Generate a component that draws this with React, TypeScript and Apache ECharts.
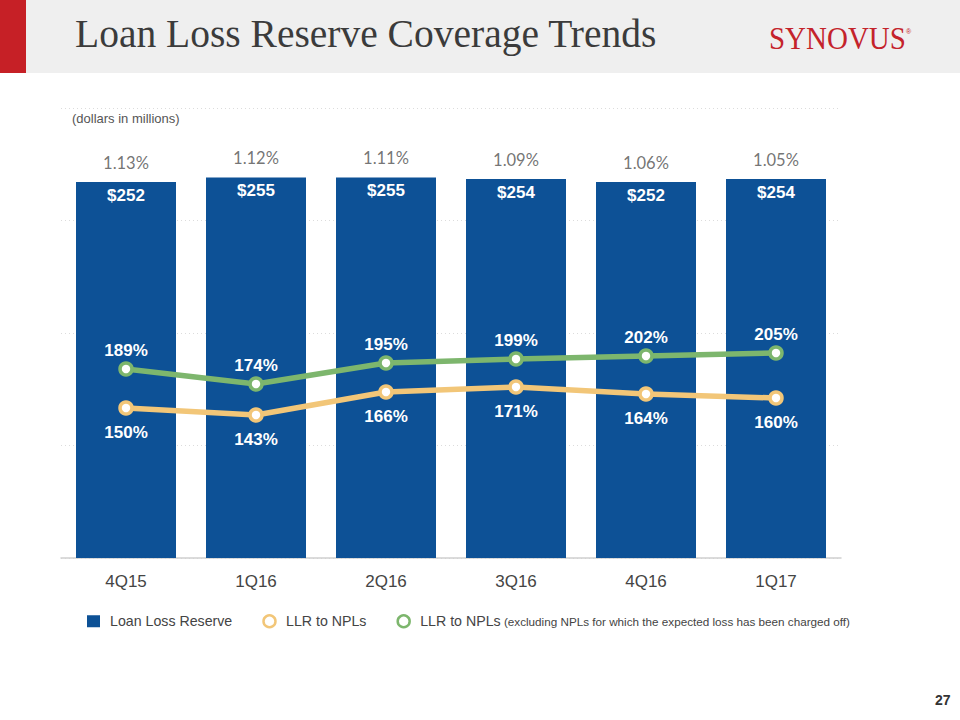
import React, { useEffect, useRef } from "react";
import * as echarts from "echarts";

const categories = ["4Q15", "1Q16", "2Q16", "3Q16", "4Q16", "1Q17"];
const loanLossReserve = [252, 255, 255, 254, 252, 254];
const reserveRatioLabels = ["1.13%", "1.12%", "1.11%", "1.09%", "1.06%", "1.05%"];
const llrToNpls = [150, 143, 166, 171, 164, 160];
const llrToNplsExcl = [189, 174, 195, 199, 202, 205];

const BLUE = "#0d5196";
const ORANGE = "#f2c678";
const GREEN = "#7db66d";
const EXCL_NAME = "LLR to NPLs excl";

export default function App() {
  const ref = useRef<HTMLDivElement>(null);

  useEffect(() => {
    if (!ref.current) return;
    const chart = echarts.init(ref.current, undefined, { renderer: "svg" });
    const option: any = {
      animation: false,
      backgroundColor: "#ffffff",
      grid: { left: 61, right: 119, top: 108, bottom: 162, containLabel: false },
      xAxis: {
        type: "category",
        data: categories,
        axisLine: { show: true, lineStyle: { color: "#cfcfcf", width: 1.5 } },
        axisTick: { show: false },
        axisLabel: {
          color: "#444",
          fontFamily: "Liberation Sans",
          fontSize: 17,
          margin: 15,
        },
      },
      yAxis: [
        {
          type: "value",
          min: 0,
          max: 301.5,
          show: false,
          splitLine: { show: false },
        },
        {
          type: "value",
          min: 0,
          max: 450,
          interval: 112.5,
          axisLine: { show: false },
          axisTick: { show: false },
          axisLabel: { show: false },
          splitLine: { show: true, lineStyle: { color: "#dcdcdc", type: [1, 3], width: 1 } },
        },
      ],
      legend: {
        left: 82,
        top: 609,
        itemWidth: 13,
        itemHeight: 12,
        itemGap: 30,
        selectedMode: false,
        data: [
          { name: "Loan Loss Reserve", icon: "rect", itemStyle: { color: BLUE } },
          {
            name: "LLR to NPLs",
            icon: "circle",
            itemStyle: { color: "#ffffff", borderColor: ORANGE, borderWidth: 2.5 },
          },
          {
            name: EXCL_NAME,
            icon: "circle",
            itemStyle: { color: "#ffffff", borderColor: GREEN, borderWidth: 2.5 },
          },
        ],
        formatter: (name: string) =>
          name === EXCL_NAME
            ? "{a|LLR to NPLs} {b|(excluding NPLs for which the expected loss has been charged off)}"
            : "{a|" + name + "}",
        textStyle: {
          padding: [0, 0, 0, 5],
          rich: {
            a: { fontSize: 14.2, color: "#444", fontFamily: "Liberation Sans" },
            b: { fontSize: 11.7, color: "#444", fontFamily: "Liberation Sans" },
          },
        },
      },
      series: [
        {
          name: "Loan Loss Reserve",
          type: "bar",
          yAxisIndex: 0,
          data: loanLossReserve,
          barWidth: 100,
          itemStyle: { color: BLUE },
          label: {
            show: true,
            position: "insideTop",
            distance: 5,
            color: "#ffffff",
            fontWeight: "bold",
            fontFamily: "Liberation Sans",
            fontSize: 17,
            formatter: (p: any) => "$" + p.value,
          },
          z: 2,
        },
        {
          name: "Reserve ratio",
          type: "scatter",
          yAxisIndex: 0,
          data: loanLossReserve,
          symbolSize: 1,
          itemStyle: { color: "rgba(0,0,0,0)" },
          silent: true,
          label: {
            show: true,
            position: "top",
            distance: 10,
            color: "#505050",
            fontFamily: "Lato",
            fontSize: 16.5,
            formatter: (p: any) => reserveRatioLabels[p.dataIndex],
          },
          z: 3,
        },
        {
          name: "LLR to NPLs",
          type: "line",
          yAxisIndex: 1,
          data: llrToNpls,
          symbol: "circle",
          symbolSize: 12,
          showAllSymbol: true,
          lineStyle: { color: ORANGE, width: 5.5 },
          itemStyle: { color: "#ffffff", borderColor: ORANGE, borderWidth: 3.5 },
          label: {
            show: true,
            position: "bottom",
            distance: 8,
            color: "#ffffff",
            fontWeight: "bold",
            fontFamily: "Liberation Sans",
            fontSize: 17,
            formatter: (p: any) => p.value + "%",
          },
          z: 4,
        },
        {
          name: EXCL_NAME,
          type: "line",
          yAxisIndex: 1,
          data: llrToNplsExcl,
          symbol: "circle",
          symbolSize: 12,
          showAllSymbol: true,
          lineStyle: { color: GREEN, width: 5.5 },
          itemStyle: { color: "#ffffff", borderColor: GREEN, borderWidth: 3.5 },
          label: {
            show: true,
            position: "top",
            distance: 2,
            color: "#ffffff",
            fontWeight: "bold",
            fontFamily: "Liberation Sans",
            fontSize: 17,
            formatter: (p: any) => p.value + "%",
          },
          z: 5,
        },
      ],
      graphic: [
        {
          type: "rect",
          left: 0,
          top: 0,
          shape: { width: 960, height: 73 },
          style: { fill: "#efefef" },
          z: -10,
          silent: true,
        },
        {
          type: "rect",
          left: 0,
          top: 0,
          shape: { width: 26, height: 73 },
          style: { fill: "#c62026" },
          z: -9,
          silent: true,
        },
        {
          type: "text",
          x: 75,
          y: 54,
          style: {
            text: "Loan Loss Reserve Coverage Trends",
            fill: "#3b3b3b",
            font: "39.5px 'Liberation Serif'",
            verticalAlign: "bottom",
          },
        },
        {
          type: "text",
          x: 769,
          y: 22,
          scaleY: 1.12,
          style: {
            text: "SYNOVUS",
            fill: "#c4232b",
            font: "29px 'Liberation Serif'",
            verticalAlign: "top",
          },
        },
        {
          type: "text",
          x: 906,
          y: 28,
          style: {
            text: "®",
            fill: "#c4232b",
            font: "7px 'Liberation Sans'",
            verticalAlign: "top",
          },
        },
        {
          type: "text",
          x: 72,
          y: 118,
          style: {
            text: "(dollars in millions)",
            fill: "#555",
            font: "13px 'Liberation Sans'",
            verticalAlign: "middle",
          },
        },
        {
          type: "text",
          x: 935,
          y: 700,
          style: {
            text: "27",
            fill: "#333",
            font: "bold 14px 'Liberation Sans'",
            verticalAlign: "middle",
          },
        },
      ],
    };
    chart.setOption(option);
    return () => chart.dispose();
  }, []);

  return (
    <div
      ref={ref}
      style={{ position: "absolute", left: 0, top: 0, width: 960, height: 720, background: "#fff" }}
    />
  );
}
